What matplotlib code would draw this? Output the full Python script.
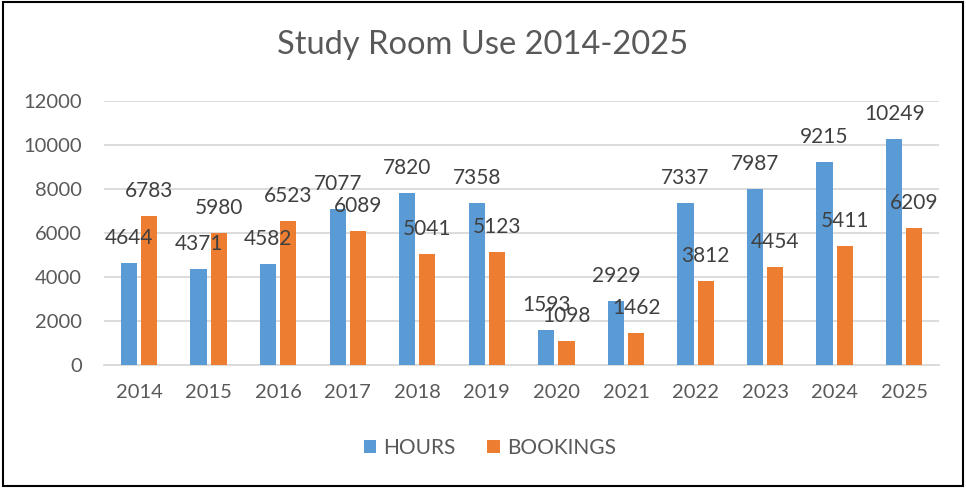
import numpy as np
import matplotlib.pyplot as plt
from matplotlib.patches import Rectangle

plt.rcParams['font.family'] = ['Lato', 'DejaVu Sans']

years = ['2014', '2015', '2016', '2017', '2018', '2019',
         '2020', '2021', '2022', '2023', '2024', '2025']
hours = [4644, 4371, 4582, 7077, 7820, 7358, 1593, 2929, 7337, 7987, 9215, 10249]
bookings = [6783, 5980, 6523, 6089, 5041, 5123, 1098, 1462, 3812, 4454, 5411, 6209]

blue = '#5B9BD5'
orange = '#ED7D31'
grey = '#595959'

fig = plt.figure(figsize=(9.66, 4.88), dpi=100)
ax = fig.add_axes([0.108, 0.252, 0.864, 0.5416])

x = np.arange(len(years))
w = 0.233
off = 0.145
b1 = ax.bar(x - off, hours, w, color=blue, label='HOURS', zorder=3)
b2 = ax.bar(x + off, bookings, w, color=orange, label='BOOKINGS', zorder=3)

# data labels sit a fixed distance above each bar top
for bars, vals in ((b1, hours), (b2, bookings)):
    for r, v in zip(bars, vals):
        ax.annotate(str(v), (r.get_x() + r.get_width() / 2, v),
                    xytext=(0, 25), textcoords='offset pixels',
                    ha='center', va='center', fontsize=15, color='#404040',
                    zorder=4)

ax.set_xlim(-0.5, len(years) - 0.5)
ax.set_ylim(0, 12000)
ax.set_yticks(range(0, 12001, 2000))
ax.set_xticks(x)
ax.set_xticklabels(years)
ax.tick_params(axis='both', length=0, labelsize=14.5, labelcolor=grey)
ax.tick_params(axis='x', pad=14)
ax.tick_params(axis='y', pad=16)
ax.grid(axis='y', color='#D9D9D9', lw=1.3, zorder=0)
for s in ('top', 'right', 'left'):
    ax.spines[s].set_visible(False)
ax.spines['bottom'].set_color('#D9D9D9')
ax.spines['bottom'].set_linewidth(1.3)

fig.text(0.5, 0.908, 'Study Room Use 2014-2025', ha='center', va='center',
         fontsize=23.5, color=grey)

fig.legend(handles=[b1, b2], loc='center', bbox_to_anchor=(0.507, 0.082),
           ncol=2, frameon=False, fontsize=15, labelcolor=grey,
           handlelength=0.6, handleheight=0.6, handletextpad=0.35,
           columnspacing=1.5)

fig.patches.append(Rectangle((0.003, 0.004), 0.994, 0.992, transform=fig.transFigure,
                             fill=False, edgecolor='black', lw=1.5))

fig.savefig('out.png', dpi=100)
